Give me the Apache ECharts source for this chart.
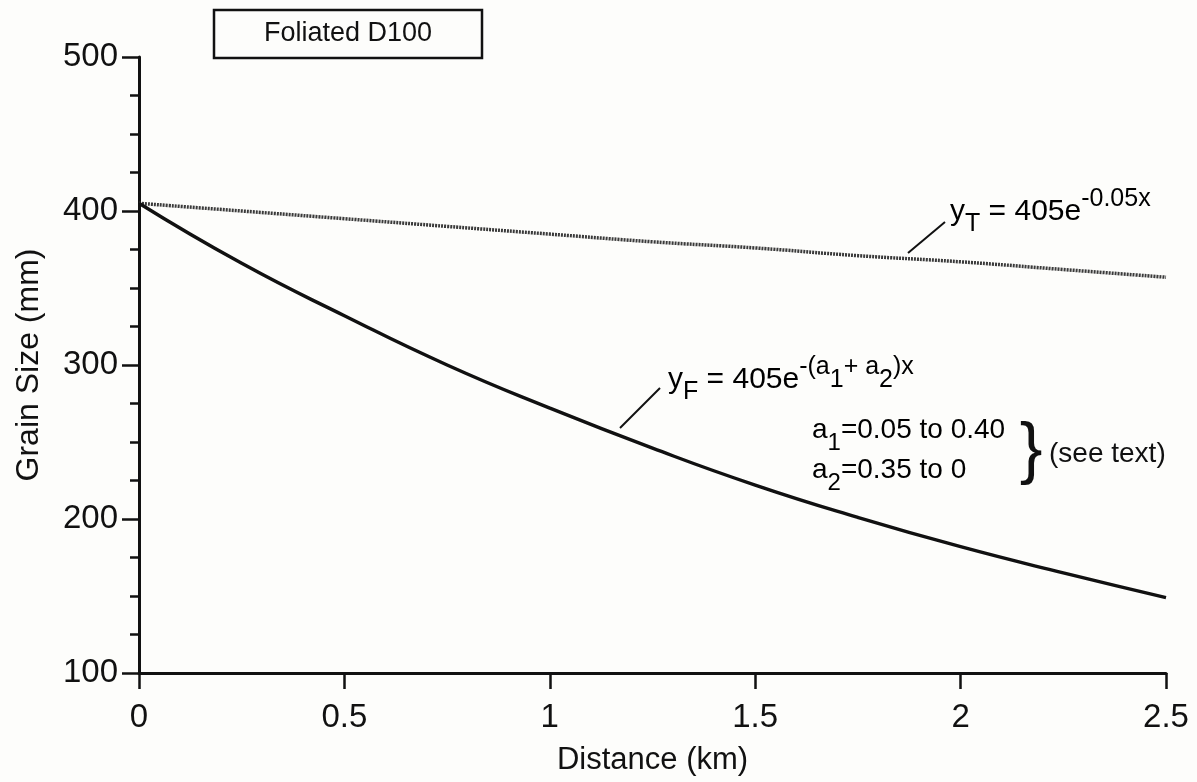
<!DOCTYPE html>
<html>
<head>
<meta charset="utf-8">
<script src="https://cdn.jsdelivr.net/npm/echarts@6/dist/echarts.min.js"></script>
<style>
  html, body { margin: 0; padding: 0; background: #fdfdfb; }
  #chart { width: 1197px; height: 782px; }
</style>
</head>
<body>
<div id="chart"></div>
<script>
// Distance downstream (km) and grain size (mm) along the two decay curves
const distanceKm = [0, 0.25, 0.5, 0.75, 1.0, 1.25, 1.5, 1.75, 2.0, 2.25, 2.5];
const grainTransport = [405, 400, 395, 390, 385, 380, 376, 371, 367, 362, 357];
const grainFoliated = [405, 366, 332, 300, 272, 246, 222, 201, 182, 165, 149];

const xTicks = ['0', '0.5', '1', '1.5', '2', '2.5'];
const yTicks = ['100', '200', '300', '400', '500'];

const FONT = '"Liberation Sans", Arial, Helvetica, sans-serif';
const INK = '#111111';

function pairs(xs, ys) {
  return xs.map((x, i) => [x, ys[i]]);
}

const chart = echarts.init(document.getElementById('chart'), null, { renderer: 'canvas' });

function richSet(main, small) {
  return {
    m: { fontSize: main, fontFamily: FONT, color: INK, lineHeight: 50 },
    sub: { fontSize: small, fontFamily: FONT, color: INK, lineHeight: 26, verticalAlign: 'bottom' },
    sup: { fontSize: small, fontFamily: FONT, color: INK, lineHeight: 26, verticalAlign: 'top' },
    supsub: { fontSize: small, fontFamily: FONT, color: INK, lineHeight: 12, verticalAlign: 'middle' }
  };
}
const eqRich = richSet(30, 25);
const coefRich = richSet(28, 24);

chart.setOption({
  backgroundColor: '#fdfdfb',
  animation: false,
  grid: { left: 139, right: 31, top: 57, bottom: 109, containLabel: false },
  xAxis: {
    type: 'value',
    min: 0,
    max: 2.5,
    interval: 0.5,
    name: 'Distance (km)',
    nameLocation: 'middle',
    nameGap: 72,
    nameTextStyle: { fontSize: 31, fontFamily: FONT, color: INK },
    axisLine: { show: true, lineStyle: { color: INK, width: 3 } },
    axisTick: { show: true, length: 16, lineStyle: { color: INK, width: 2.5 } },
    axisLabel: {
      margin: 28,
      fontSize: 33,
      fontFamily: FONT,
      color: INK,
      formatter: (v) => xTicks[Math.round(v / 0.5)]
    },
    splitLine: { show: false }
  },
  yAxis: {
    type: 'value',
    min: 100,
    max: 500,
    interval: 100,
    name: 'Grain Size (mm)',
    nameLocation: 'middle',
    nameGap: 94,
    nameRotate: 90,
    nameTextStyle: { fontSize: 32, fontFamily: FONT, color: INK },
    axisLine: { show: true, lineStyle: { color: INK, width: 3 } },
    axisTick: { show: true, length: 17, lineStyle: { color: INK, width: 2.5 } },
    minorTick: { show: true, splitNumber: 4, length: 9, lineStyle: { color: INK, width: 2.5 } },
    axisLabel: {
      margin: 21,
      fontSize: 33,
      fontFamily: FONT,
      color: INK,
      formatter: (v) => yTicks[Math.round((v - 100) / 100)]
    },
    splitLine: { show: false }
  },
  series: [
    {
      name: 'yT',
      type: 'line',
      smooth: true,
      showSymbol: false,
      data: pairs(distanceKm, grainTransport),
      lineStyle: { color: '#3a3a3a', width: 3.5, type: [2, 1] },
      z: 3
    },
    {
      name: 'yF',
      type: 'line',
      smooth: true,
      showSymbol: false,
      data: pairs(distanceKm, grainFoliated),
      lineStyle: { color: INK, width: 3.4 },
      z: 4
    }
  ],
  graphic: [
    // title box
    {
      type: 'rect',
      shape: { x: 214, y: 10, width: 268, height: 48 },
      style: { fill: 'none', stroke: INK, lineWidth: 2.5 }
    },
    {
      type: 'text',
      x: 348, y: 34,
      style: {
        text: 'Foliated D100', font: '27px ' + FONT, fill: INK,
        align: 'center', verticalAlign: 'middle'
      }
    },
    // leader lines
    {
      type: 'line',
      shape: { x1: 908, y1: 253, x2: 945, y2: 222 },
      style: { stroke: INK, lineWidth: 2 }
    },
    {
      type: 'line',
      shape: { x1: 620, y1: 428, x2: 660, y2: 388 },
      style: { stroke: INK, lineWidth: 2 }
    },
    // curve equations
    {
      type: 'text',
      x: 950, y: 212,
      style: {
        text: '{m|y}{sub|T}{m| = 405e}{sup|-0.05x}',
        rich: eqRich,
        verticalAlign: 'middle'
      }
    },
    {
      type: 'text',
      x: 668, y: 380,
      style: {
        text: '{m|y}{sub|F}{m| = 405e}{sup|-(a}{supsub|1}{sup|+ a}{supsub|2}{sup|)x}',
        rich: eqRich,
        verticalAlign: 'middle'
      }
    },
    {
      type: 'text',
      x: 812, y: 430,
      style: {
        text: '{m|a}{sub|1}{m|=0.05 to 0.40}',
        rich: coefRich,
        verticalAlign: 'middle'
      }
    },
    {
      type: 'text',
      x: 812, y: 470,
      style: {
        text: '{m|a}{sub|2}{m|=0.35 to 0}',
        rich: coefRich,
        verticalAlign: 'middle'
      }
    },
    {
      type: 'text',
      x: 1031, y: 452,
      style: {
        text: '}', font: '68px ' + FONT, fill: INK,
        align: 'center', verticalAlign: 'middle'
      }
    },
    {
      type: 'text',
      x: 1049, y: 454,
      style: {
        text: '(see text)', font: '28px ' + FONT, fill: INK,
        align: 'left', verticalAlign: 'middle'
      }
    }
  ]
});
</script>
</body>
</html>
